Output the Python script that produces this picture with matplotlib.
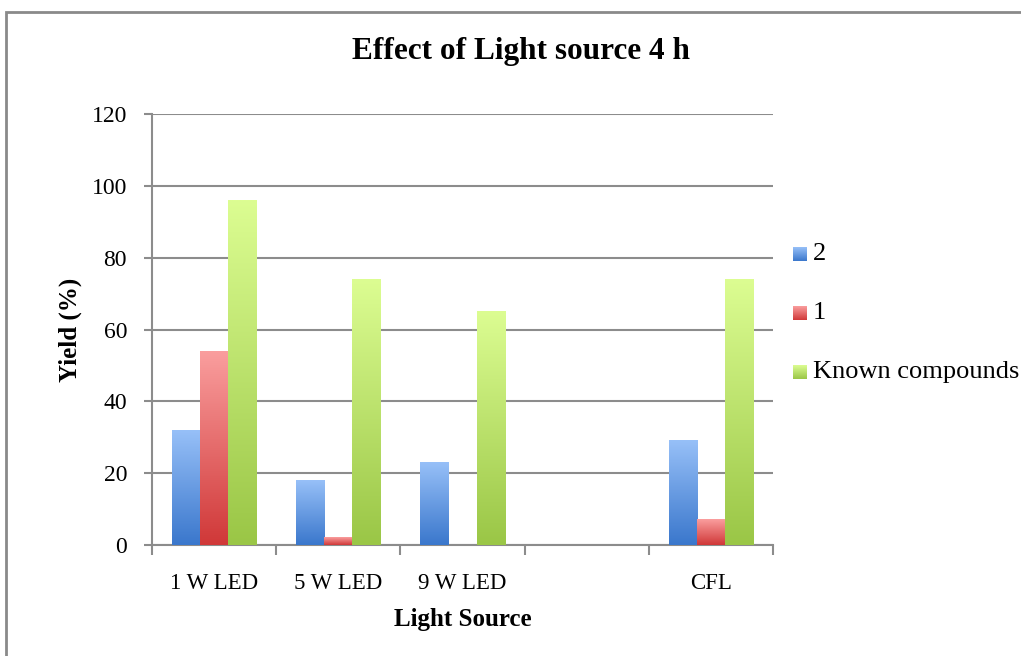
import numpy as np
import matplotlib
matplotlib.use("Agg")
import matplotlib.pyplot as plt
from matplotlib.colors import LinearSegmentedColormap
from matplotlib.patches import Rectangle

# yields per light source (empty slot kept between 9 W LED and CFL)
categories = ['1 W LED', '5 W LED', '9 W LED', '', 'CFL']
yield_2 = [32, 18, 23, np.nan, 29]
yield_1 = [54, 2, 0, np.nan, 7]
yield_known = [96, 74, 65, np.nan, 74]

series_names = ['2', '1', 'Known compounds']
series_data = [yield_2, yield_1, yield_known]
# (top colour, bottom colour) of the bar gradients
series_grad = [('#97c0f8', '#3a77cc'),
               ('#fa9e9e', '#d03838'),
               ('#dcfd92', '#9ac646')]

plt.rcParams['font.family'] = ['Liberation Serif', 'DejaVu Serif']
grid_col = '#8c8c8c'

fig = plt.figure(figsize=(10.21, 6.56), dpi=100)
fig.patch.set_facecolor('white')
# chart area border (runs off the right and bottom of the image)
fig.patches.append(Rectangle((6 / 1021, -0.1), 1.2, 1 - 11.5 / 656 + 0.1,
                             transform=fig.transFigure, fill=False,
                             edgecolor='#8a8a8a', linewidth=2))

ax = fig.add_axes([152 / 1021, 1 - 545 / 656, 621 / 1021, 431 / 656])

def grad_cmap(top, bottom):
    return LinearSegmentedColormap.from_list('g', [bottom, top])

grad = np.linspace(0, 1, 256).reshape(-1, 1)
width = 0.226
x = np.arange(len(categories))
for k, (vals, (top, bottom)) in enumerate(zip(series_data, series_grad)):
    cmap = grad_cmap(top, bottom)
    for xi, v in zip(x, vals):
        if np.isnan(v) or v <= 0:
            continue
        x0 = xi + (k - 1) * width - width / 2
        ax.imshow(grad, cmap=cmap, origin='lower', aspect='auto',
                  extent=(x0, x0 + width, 0, v), zorder=3,
                  interpolation='bilinear')

ax.set_xlim(-0.5, len(categories) - 0.5)
ax.set_ylim(0, 120)

ax.set_yticks(np.arange(0, 121, 20))
ax.yaxis.grid(True, color=grid_col, linewidth=1.5)
ax.set_axisbelow(True)
ax.tick_params(axis='y', length=6, width=1.5, color=grid_col,
               labelsize=17, pad=12)

ax.set_xticks(np.arange(-0.5, len(categories), 1))
ax.set_xticklabels([])
ax.set_xticks(x, minor=True)
ax.set_xticklabels(categories, minor=True)
ax.tick_params(axis='x', which='major', length=7, width=1.5, color=grid_col)
ax.tick_params(axis='x', which='minor', length=0, labelsize=16.5, pad=20)

for s in ['top', 'right']:
    ax.spines[s].set_visible(False)
for s in ['left', 'bottom']:
    ax.spines[s].set_color(grid_col)
    ax.spines[s].set_linewidth(1.5)

ax.set_xlabel('Light Source', fontsize=18, fontweight='bold', labelpad=10)
ax.set_ylabel('Yield (%)', fontsize=18, fontweight='bold', labelpad=7)

fig.text(521 / 1021, 1 - 52 / 656, 'Effect of Light source 4 h',
         ha='center', va='center', fontsize=22.5, fontweight='bold')

# legend with gradient swatches
for i, (name, (top, bottom)) in enumerate(zip(series_names, series_grad)):
    yc = 254 + i * 59
    sw = fig.add_axes([793 / 1021, 1 - (yc + 7) / 656, 14 / 1021, 14 / 656])
    sw.imshow(grad, cmap=grad_cmap(top, bottom), origin='lower',
              aspect='auto', interpolation='bilinear')
    sw.axis('off')
    fig.text(813 / 1021, 1 - yc / 656, name, ha='left', va='center',
             fontsize=19)

fig.savefig('out.png', dpi=100, facecolor='white')
